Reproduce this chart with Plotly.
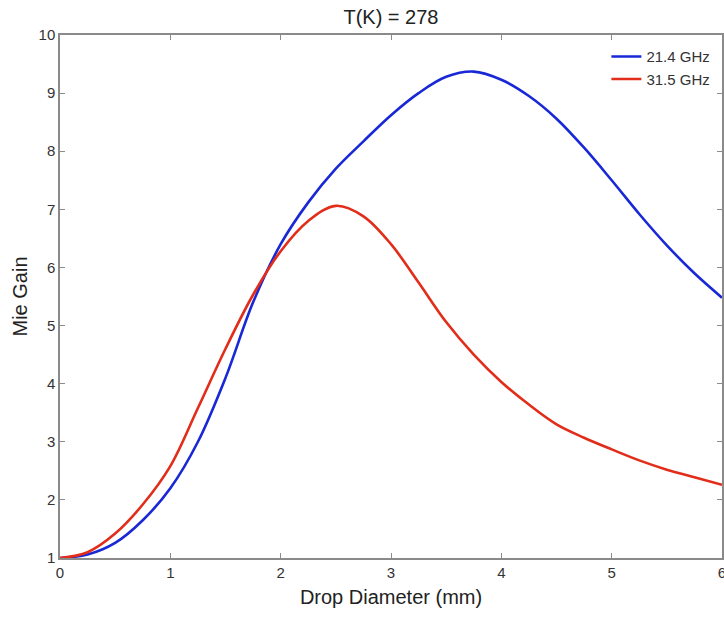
import plotly.graph_objects as go

diameter_mm = [0, 0.25, 0.5, 0.75, 1.0, 1.25, 1.5, 1.75, 2.0, 2.25, 2.5, 2.75, 3.0,
               3.25, 3.5, 3.75, 4.0, 4.25, 4.5, 4.75, 5.0, 5.25, 5.5, 5.75, 6.0]

gain_21_4 = [1.0, 1.06, 1.26, 1.65, 2.2, 3.0, 4.1, 5.4, 6.4, 7.12, 7.7, 8.17, 8.62,
             9.0, 9.28, 9.37, 9.23, 8.95, 8.56, 8.06, 7.5, 6.92, 6.38, 5.9, 5.48]

gain_31_5 = [1.0, 1.1, 1.42, 1.92, 2.58, 3.58, 4.6, 5.53, 6.28, 6.8, 7.06, 6.88, 6.4,
             5.74, 5.06, 4.5, 4.03, 3.64, 3.3, 3.07, 2.87, 2.68, 2.52, 2.39, 2.26]

series_names = ["21.4 GHz", "31.5 GHz"]
x_ticks = [0, 1, 2, 3, 4, 5, 6]
y_ticks = [1, 2, 3, 4, 5, 6, 7, 8, 9, 10]

fig = go.Figure()
fig.add_trace(go.Scatter(x=diameter_mm, y=gain_21_4, mode="lines", name=series_names[0],
                         line=dict(color="rgb(25,40,215)", width=2.6, shape="spline")))
fig.add_trace(go.Scatter(x=diameter_mm, y=gain_31_5, mode="lines", name=series_names[1],
                         line=dict(color="rgb(225,45,25)", width=2.6, shape="spline")))

axis_common = dict(showgrid=False, zeroline=False, showline=True, linecolor="#8a8a8a",
                   linewidth=1.5, mirror="ticks", ticks="inside", ticklen=5,
                   tickcolor="#8a8a8a", tickfont=dict(size=15, color="#333333"),
                   automargin=False, ticklabeloverflow="allow")

fig.update_layout(
    width=724, height=619,
    margin=dict(l=60, r=2, t=35, b=61, autoexpand=False),
    paper_bgcolor="white", plot_bgcolor="white",
    font=dict(family="Liberation Sans, Arial, sans-serif", color="#222222"),
    title=dict(text="T(K) = 278", x=0.54, xanchor="center", y=0.972, yanchor="middle",
               font=dict(size=20, color="#222222")),
    xaxis=dict(range=[0, 6], tickvals=x_ticks,
               title=dict(text="Drop Diameter (mm)", font=dict(size=20), standoff=10),
               **axis_common),
    yaxis=dict(range=[1, 10], tickvals=y_ticks,
               title=dict(text="Mie Gain", font=dict(size=20), standoff=6),
               **axis_common),
    legend=dict(x=0.99, y=0.99, xanchor="right", yanchor="top",
                bgcolor="rgba(0,0,0,0)", font=dict(size=15, color="#333333")),
    showlegend=True,
)

# Remove the default 8px page margin so the 724x619 figure fills the window exactly.
fig.write_html(
    "out.html",
    config={"displayModeBar": False},
    post_script="document.body.style.margin='0';document.body.style.overflow='hidden';",
)
